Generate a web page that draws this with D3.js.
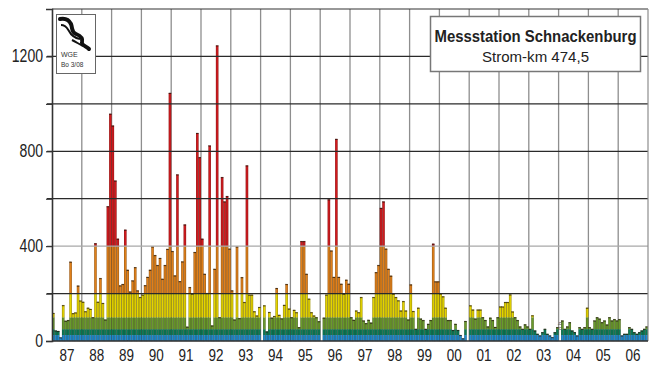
<!DOCTYPE html>
<html>
<head>
<meta charset="utf-8">
<script src="https://cdn.jsdelivr.net/npm/d3@7"></script>
<style>
  body { margin: 0; background: white; }
</style>
</head>
<body>
<script>
// monthly values Jan..Dec per year, null = no measurement
const v1987 = [118, 44, 42, 15, 151, 85, 88, 334, 117, 120, 233, 170]
const v1988 = [165, 125, 140, 135, 100, 412, 165, 265, 160, 90, 568, 958]
const v1989 = [908, 676, 431, 234, 240, 469, 300, 208, 255, 311, 213, 185]
const v1990 = [195, 235, 270, 300, 398, 362, 320, 350, 262, 320, 388, 1046]
const v1991 = [379, 276, 702, 252, 335, 491, 60, 227, 199, 375, 877, 775]
const v1992 = [431, 283, 202, 824, 65, 304, 1246, 100, 691, 588, 611, 389]
const v1993 = [213, 90, 398, 96, 269, 164, 740, 195, 195, 125, 107, 143]
const v1994 = [null, 150, 40, 122, 98, 105, 223, 110, 95, 152, 240, 136]
const v1995 = [100, 131, 121, 58, 421, 421, 283, 178, 121, 107, 100, 83]
const v1996 = [null, 98, 195, 597, 381, 270, 852, 270, 241, 199, 258, 241]
const v1997 = [100, 89, 128, 121, 185, 86, 75, 89, 77, 185, 290, 320]
const v1998 = [561, 588, 389, 304, 275, 199, 185, 171, 128, 168, 128, 90]
const v1999 = [238, 126, 51, 140, 94, 88, 51, 72, 88, 410, 251, 251]
const v2000 = [200, 188, 140, 88, 88, 46, 72, 46, 25, 11, 84, null]
const v2001 = [150, 132, 94, 132, 132, 100, 88, 61, 98, 88, 59, 100]
const v2002 = [145, 145, 164, 164, 196, 124, 100, 88, 61, 51, 70, 61]
const v2003 = [51, 108, 44, 30, 23, 37, 51, 30, 23, 16, 37, 58]
const v2004 = [null, 86, 51, 61, 79, 44, 37, 23, 58, 51, 58, 140]
const v2005 = [58, 51, 86, 100, 94, 79, 86, 69, 100, 86, 92, 86]
const v2006 = [92, 23, 30, 30, 58, 51, 37, 30, 37, 44, 51, 61]

const years = d3.range(1987, 2007)
const yearLabels = ['87', '88', '89', '90', '91', '92', '93', '94', '95', '96',
                    '97', '98', '99', '00', '01', '02', '03', '04', '05', '06']
const yTickValues = [0, 400, 800, 1200]
const gridValues = [200, 400, 600, 800, 1000, 1200]
const bandLimits = [0, 25, 50, 100, 200, 400, 2000]
const bandColors = ['#1c8bd0', '#0a7c58', '#6a9b2c', '#e4d400', '#e0801a', '#d3191e']

const values = [v1987, v1988, v1989, v1990, v1991, v1992, v1993, v1994, v1995, v1996,
                v1997, v1998, v1999, v2000, v2001, v2002, v2003, v2004, v2005, v2006].flat()

const chartW = 650, chartH = 365
const plotL = 52, plotR = 648, plotT = 9, plotB = 341

let svg = d3.select('body').append('svg')
            .attr('width', chartW)
            .attr('height', chartH)
            .style('font-family', '"Liberation Sans", Arial, sans-serif')

svg.append('rect').attr('width', chartW).attr('height', chartH).attr('fill', 'white')

let x = d3.scaleBand().domain(d3.range(values.length)).range([plotL, plotR]).padding(0)
let xYear = d3.scaleLinear().domain([1987, 2007]).range([plotL, plotR])
let y = d3.scaleLinear().domain([0, 1400]).range([plotB, plotT])

// vertical year lines (behind bars)
svg.append('g').selectAll('line')
   .data(years.slice(1))
   .join('line')
   .attr('x1', d => xYear(d)).attr('x2', d => xYear(d))
   .attr('y1', plotT).attr('y2', plotB)
   .attr('stroke', '#8e8e8e')
   .attr('stroke-width', 1.3)

// stacked colour bands per bar
let segments = []
values.forEach((v, i) => {
    if (v == null) return
    for (let b = 0; b < bandColors.length; b++) {
        let lo = bandLimits[b], hi = bandLimits[b + 1]
        if (v > lo) segments.push({ i, lo, hi: Math.min(v, hi), color: bandColors[b] })
    }
})

let bw = x.bandwidth()
svg.append('g').selectAll('rect')
   .data(segments)
   .join('rect')
   .attr('x', d => x(d.i))
   .attr('width', bw)
   .attr('y', d => y(d.hi))
   .attr('height', d => y(d.lo) - y(d.hi))
   .attr('fill', d => d.color)

// bar outlines
let bars = values.map((v, i) => ({ i, v })).filter(d => d.v != null)
svg.append('g').selectAll('rect')
   .data(bars)
   .join('rect')
   .attr('x', d => x(d.i) + 0.25)
   .attr('width', bw - 0.5)
   .attr('y', d => y(d.v))
   .attr('height', d => y(0) - y(d.v))
   .attr('fill', 'none')
   .attr('stroke', 'rgba(40,30,20,0.45)')
   .attr('stroke-width', 0.5)

svg.append('g').selectAll('line')
   .data(bars)
   .join('line')
   .attr('x1', d => x(d.i)).attr('x2', d => x(d.i) + bw)
   .attr('y1', d => y(d.v) + 0.5).attr('y2', d => y(d.v) + 0.5)
   .attr('stroke', 'rgba(30,20,10,0.7)')
   .attr('stroke-width', 1)

// horizontal grid over the bars
svg.append('g').selectAll('line')
   .data(gridValues)
   .join('line')
   .attr('x1', plotL - 5).attr('x2', plotR)
   .attr('y1', d => y(d)).attr('y2', d => y(d))
   .attr('stroke', d => d === 400 ? '#a8a8a8' : '#2a2a2a')
   .attr('stroke-width', 1.2)

// frame
svg.append('line').attr('x1', plotL).attr('x2', plotR).attr('y1', plotT).attr('y2', plotT)
   .attr('stroke', '#333').attr('stroke-width', 1.2)
svg.append('line').attr('x1', plotR).attr('x2', plotR).attr('y1', plotT).attr('y2', plotB)
   .attr('stroke', '#8e8e8e').attr('stroke-width', 1.2)

// y axis
let yAxis = svg.append('g')
               .attr('transform', `translate(${plotL},0)`)
               .call(d3.axisLeft(y).tickValues(gridValues.concat([0])).tickSize(6).tickFormat(''))
yAxis.select('.domain').attr('stroke', '#333').attr('stroke-width', 1.6)
yAxis.selectAll('.tick line').attr('stroke', '#333').attr('stroke-width', 1.2)

svg.append('g').selectAll('text')
   .data(yTickValues)
   .join('text')
   .attr('x', 43)
   .attr('y', d => y(d) + 6)
   .attr('text-anchor', 'end')
   .attr('font-size', 18)
   .attr('fill', '#222')
   .attr('textLength', d => String(d).length * 7.8)
   .attr('lengthAdjust', 'spacingAndGlyphs')
   .text(d => d)

// x axis
svg.append('line').attr('x1', plotL).attr('x2', plotR).attr('y1', plotB).attr('y2', plotB)
   .attr('stroke', '#333').attr('stroke-width', 1.6)

svg.append('g').selectAll('text')
   .data(years)
   .join('text')
   .attr('x', d => xYear(d + 0.5))
   .attr('y', 361)
   .attr('text-anchor', 'middle')
   .attr('font-size', 17)
   .attr('fill', '#222')
   .attr('textLength', 15)
   .attr('lengthAdjust', 'spacingAndGlyphs')
   .text((d, i) => yearLabels[i])

// small note at the 2004 data gap
svg.append('text')
   .attr('transform', `translate(${x(204) + bw / 2 + 2},330) rotate(-90)`)
   .attr('font-size', 6)
   .attr('fill', '#555')
   .text('n.b.')

// title box
let title = svg.append('g')
title.append('rect')
     .attr('x', 430.5).attr('y', 16.5).attr('width', 210).attr('height', 55)
     .attr('fill', 'white').attr('stroke', '#777').attr('stroke-width', 1.5)
title.append('text')
     .attr('x', 535.5).attr('y', 42)
     .attr('text-anchor', 'middle')
     .attr('font-size', 16).attr('font-weight', 'bold').attr('fill', '#222')
     .attr('textLength', 202).attr('lengthAdjust', 'spacingAndGlyphs')
     .text('Messstation Schnackenburg')
title.append('text')
     .attr('x', 535.5).attr('y', 62)
     .attr('text-anchor', 'middle')
     .attr('font-size', 15.5).attr('fill', '#222')
     .attr('textLength', 107).attr('lengthAdjust', 'spacingAndGlyphs')
     .text('Strom-km 474,5')

// logo box
let logo = svg.append('g')
logo.append('rect')
    .attr('x', 56.5).attr('y', 14.5).attr('width', 39).attr('height', 59)
    .attr('fill', 'white').attr('stroke', '#666').attr('stroke-width', 1)
logo.append('path')
    .attr('d', 'M60,19 C65,18 69,20 71,24 C73,29 71,32 76,34 C81,36 83,38 82,42 C81,45 86,46 89,49')
    .attr('fill', 'none').attr('stroke', '#111').attr('stroke-width', 4)
    .attr('stroke-linecap', 'round')
logo.append('path')
    .attr('d', 'M61,25 C66,25 67,28 69,31 C71,35 75,38 80,39 M72,40 C76,42 79,44 83,46')
    .attr('fill', 'none').attr('stroke', '#111').attr('stroke-width', 2)
logo.append('text').attr('x', 61).attr('y', 57).attr('font-size', 7).attr('fill', '#333').text('WGE')
logo.append('text').attr('x', 61).attr('y', 67).attr('font-size', 6.5).attr('fill', '#333').text('Bo 3/08')
</script>
</body>
</html>
